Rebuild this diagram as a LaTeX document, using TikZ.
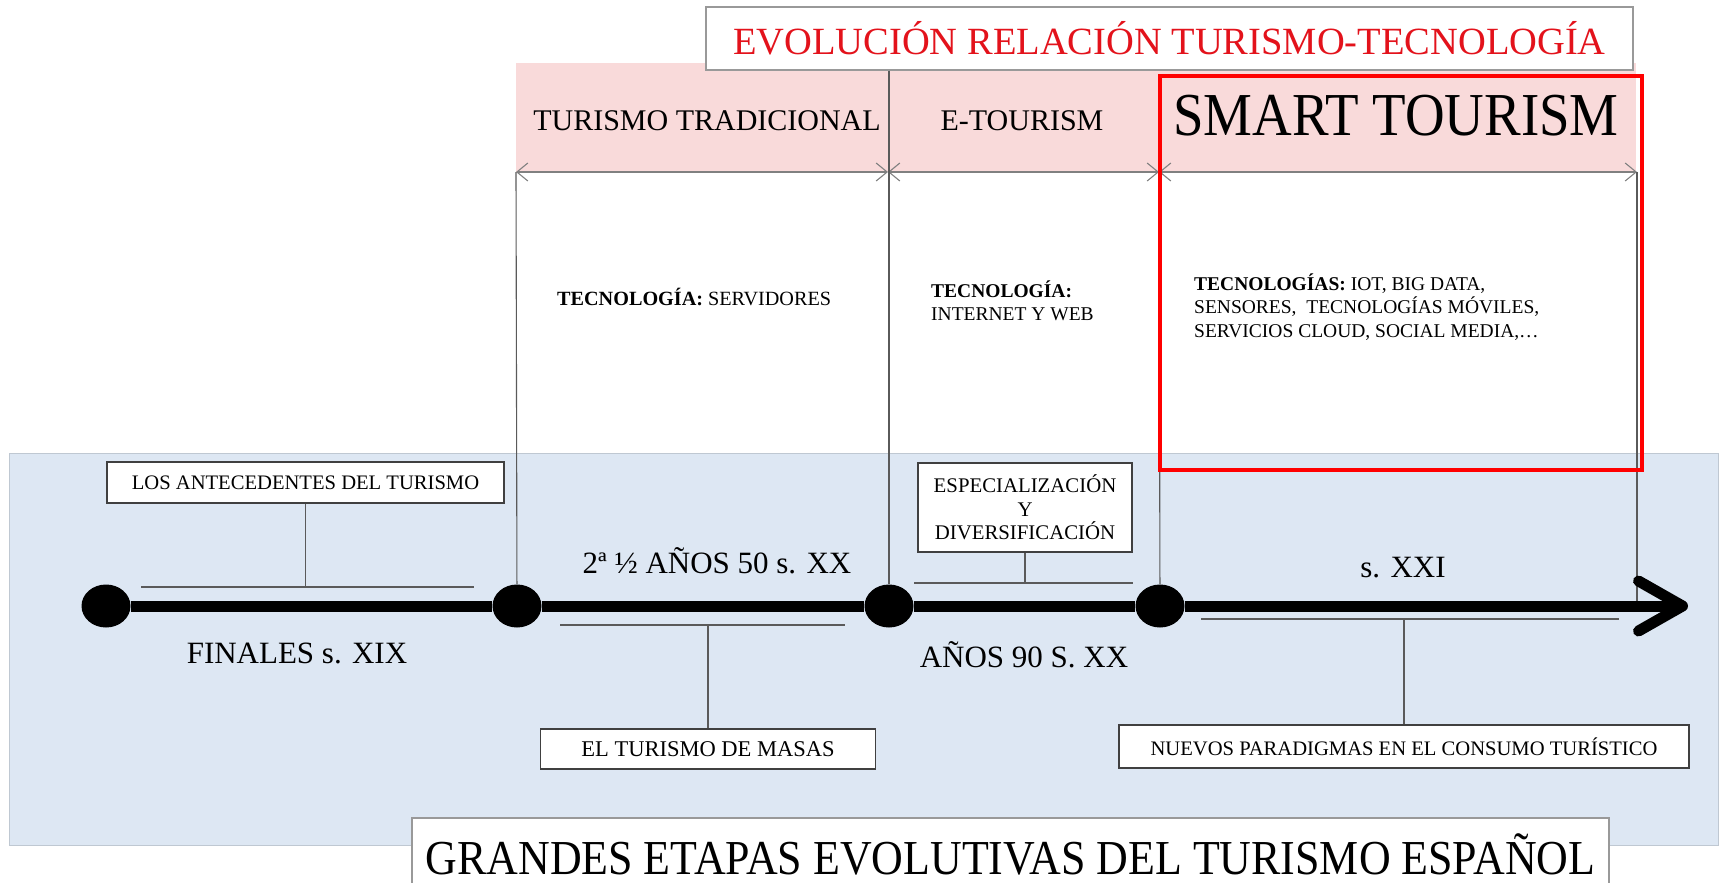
\documentclass[tikz,border=0pt]{standalone}
\usepackage{fontspec}
\setmainfont{Liberation Serif}
\newfontfamily\narrowfont[FakeStretch=0.9]{Liberation Serif}
\usepackage{tikz}
\usetikzlibrary{arrows.meta, shapes.geometric, positioning}
\definecolor{C_RED}  {HTML}{FF0000}
\definecolor{C_TITLE}{HTML}{E3121B}
\definecolor{C_PINK} {HTML}{F9DADA}
\definecolor{C_PANEL}{HTML}{DDE7F3}
\definecolor{C_RIM}  {HTML}{BFC8D2}
\definecolor{C_EDGE} {HTML}{404040}
\definecolor{C_TICK} {HTML}{5A5A5A}
\definecolor{C_SPAN} {HTML}{808080}
\tikzset{
  %% -- timeline dot --
  TL/dot/.style={ellipse, fill=black, minimum width=49pt, minimum height=43pt, inner sep=0pt},
  %% -- timeline axis --
  TL/axis/.style={line width=11pt, black},
  TL/tip/.style={-{Straight Barb[length=44pt, width=50pt, round]}},
  %% -- thin connectors --
  TL/vline/.style={draw=C_TICK, line width=1.1pt},
  TL/tick/.style={draw=C_TICK, line width=1.3pt},
  TL/span/.style={{Straight Barb[length=11pt, width=18pt]}-{Straight Barb[length=11pt, width=18pt]}, draw=C_SPAN, line width=1.1pt},
  %% -- labelled boxes on the axis --
  TL/box/.style={draw=C_EDGE, line width=1.6pt, fill=white, inner sep=2pt,
    font=\fontsize{20.6}{23.5}\selectfont, align=center},
  %% -- period labels --
  TL/era/.style={font=\fontsize{31}{36}\selectfont},
  %% -- header band --
  TL/head/.style={font=\fontsize{30}{34}\selectfont},
  TL/smart/.style={font=\narrowfont\fontsize{61}{66}\selectfont},
  TL/tech/.style={font=\fontsize{19.5}{23.5}\selectfont, align=left, inner sep=0pt},
  %% -- title boxes --
  TL/title/.style={draw=C_SPAN!80, line width=1.5pt, fill=white,
    minimum width=927pt, minimum height=63pt, text=C_TITLE,
    font=\fontsize{38.5}{42}\selectfont},
  TL/footer/.style={draw=C_SPAN!80, line width=1.5pt, fill=white,
    minimum width=1197pt, minimum height=72pt,
    font=\narrowfont\fontsize{48.8}{52}\selectfont},
}
\begin{document}
\begin{tikzpicture}[x=1pt, y=-1pt]
\useasboundingbox (0,0) rectangle (1721,883);

%% Background panel and header band
\draw[draw=C_RIM, fill=C_PANEL, line width=1pt] (9,453) rectangle (1718,845);
\fill[C_PINK] (516,63) rectangle (1636,172);

%% Title
\node[TL/title] (ttl) at (1169.5,38.5) {EVOLUCIÓN RELACIÓN TURISMO-TECNOLOGÍA};

%% Header labels
\node[TL/head]  (trad)  at (707,121)  {TURISMO TRADICIONAL};
\node[TL/head]  (etour) at (1022,121) {E-TOURISM};
\node[TL/smart] (smart) at (1396,116) {SMART TOURISM};

\coordinate (h1) at (516,172);
\coordinate (h2) at (888,172);
\coordinate (h3) at (1159,172);
\coordinate (h4) at (1637,172);
\draw[TL/span] (h1) -- (h2);
\draw[TL/span] (h2) -- (h3);
\draw[TL/span] (h3) -- (h4);

%% Technologies
\node[TL/tech, anchor=west, font=\fontsize{20.2}{23.5}\selectfont] (tsrv) at (557,297)
  {\textbf{TECNOLOGÍA:} SERVIDORES};
\node[TL/tech, anchor=west] (tweb) at (931,301)
  {\textbf{TECNOLOGÍA:}\\INTERNET Y WEB};
\node[TL/tech, anchor=west] (tsmart) at (1194,307)
  {\textbf{TECNOLOGÍAS:} IOT, BIG DATA,\\SENSORES,\ \ TECNOLOGÍAS MÓVILES,\\SERVICIOS CLOUD, SOCIAL MEDIA,…};

%% Timeline
\node[TL/dot] (d1) at (106,606) {};
\node[TL/dot] (d2) at (517,606) {};
\node[TL/dot] (d3) at (889,606) {};
\node[TL/dot] (d4) at (1160,606) {};
\coordinate (tip) at (1688,606);

\draw[TL/vline] (h1) -- (d2);
\draw[TL/vline] (ttl.south -| d3) -- (d3);
\draw[TL/vline] (h3) -- (d4);
\draw[TL/vline] (h4) -- (h4 |- tip);

\draw[TL/axis] (d1) -- (d2);
\draw[TL/axis] (d2) -- (d3);
\draw[TL/axis] (d3) -- (d4);
\draw[TL/axis, TL/tip] (d4) -- (tip);

%% Period labels
\node[TL/era] (e1) at (297,653)  {FINALES s. XIX};
\node[TL/era] (e2) at (717,561)  {2ª ½ AÑOS 50 s. XX};
\node[TL/era] (e3) at (1024,655) {AÑOS 90 S. XX};
\node[TL/era] (e4) at (1403,568) {s. XXI};

%% Stage boxes
\node[TL/box, minimum width=397pt, minimum height=41pt] (ante) at (305.5,482.5)
  {LOS ANTECEDENTES DEL TURISMO};
\coordinate (ante l) at (141,587);
\coordinate (ante r) at (474,587);
\draw[TL/tick] (ante l) -- (ante r);
\draw[TL/tick] (ante.south) -- (ante.south |- ante l);

\node[TL/box, minimum width=335pt, minimum height=40pt, font=\fontsize{22.5}{26}\selectfont]
  (masas) at (708,749) {EL TURISMO DE MASAS};
\coordinate (masas l) at (560,625);
\coordinate (masas r) at (845,625);
\draw[TL/tick] (masas l) -- (masas r);
\draw[TL/tick] (masas.north) -- (masas.north |- masas l);

\node[TL/box, minimum width=214pt, minimum height=89pt, font=\fontsize{20.8}{23.5}\selectfont]
  (espec) at (1025,507.5) {ESPECIALIZACIÓN\\Y\\DIVERSIFICACIÓN};
\coordinate (espec l) at (914,583);
\coordinate (espec r) at (1133,583);
\draw[TL/tick] (espec l) -- (espec r);
\draw[TL/tick] (espec.south) -- (espec.south |- espec l);

\node[TL/box, minimum width=570pt, minimum height=43pt] (nuevos) at (1404,746.5)
  {NUEVOS PARADIGMAS EN EL CONSUMO TURÍSTICO};
\coordinate (nuevos l) at (1201,619);
\coordinate (nuevos r) at (1619,619);
\draw[TL/tick] (nuevos l) -- (nuevos r);
\draw[TL/tick] (nuevos.north) -- (nuevos.north |- nuevos l);

%% Footer title
\node[TL/footer] (foot) at (1010.5,854) {GRANDES ETAPAS EVOLUTIVAS DEL TURISMO ESPAÑOL};

%% Smart tourism highlight
\draw[C_RED, line width=4.4pt] (1160,76) rectangle (1642,470);
\end{tikzpicture}
\end{document}
